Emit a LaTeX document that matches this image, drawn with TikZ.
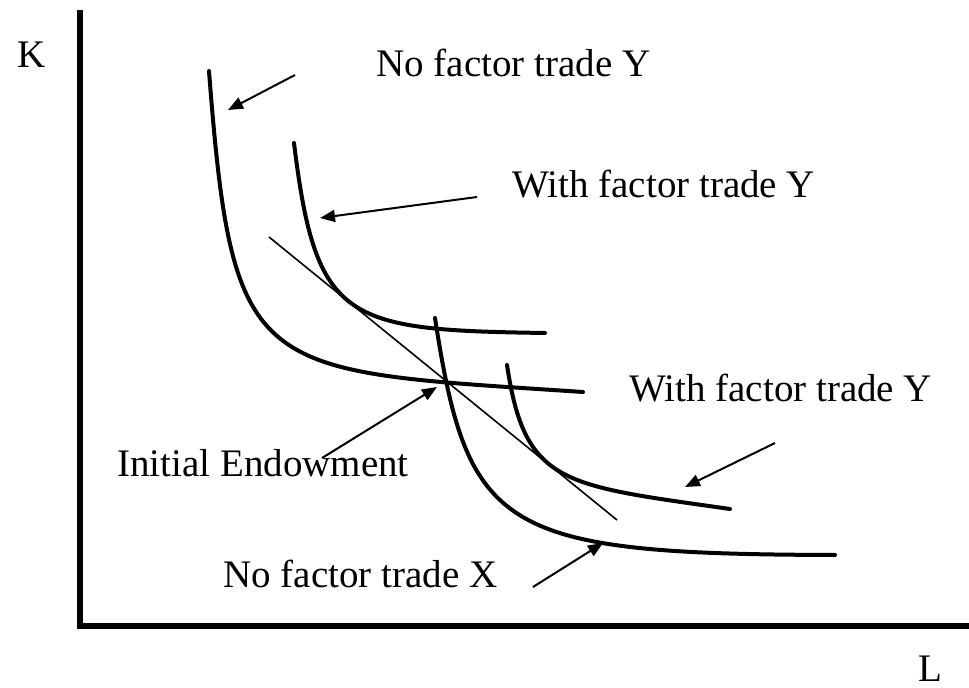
\documentclass[tikz,border=0pt]{standalone}
\usepackage{fontspec}
\setmainfont{Liberation Serif}
\usetikzlibrary{arrows.meta}

\begin{document}
\begin{tikzpicture}[x=0.5pt,y=-0.5pt,
  lbl/.style={anchor=base west,inner sep=0pt,font=\fontsize{19.5}{23}\selectfont},
  isoquant/.style={line width=2pt,line cap=round},
  pointer/.style={line width=1pt,-{Triangle[length=7.5pt,width=6pt]}}]
\useasboundingbox (0,0) rectangle (969,688);

% axes
\draw[line width=2.8pt] (80,10) -- (80,626) -- (969,626);
\node[lbl] (k) at (17,68) {K};
\node[lbl] (l) at (918,682) {L};

% isoquants
\draw[isoquant] (209,71) .. controls (233,381) and (253,370) .. (583,392);
\draw[isoquant] (294,143) .. controls (316,323) and (345,330) .. (545,333);
\draw[isoquant] (435,318) .. controls (468,532) and (500,554) .. (835,555);
\draw[isoquant] (507,365) .. controls (525,485) and (562,485) .. (730,509);

% price line
\draw[line width=0.8pt] (269,237) -- (617,520);

% labels
\node[lbl] (noy) at (376,77) {No factor trade Y};
\node[lbl] (withy) at (512,198) {With factor trade Y};
\node[lbl] (withy2) at (629,402) {With factor trade Y};
\node[lbl] (endow) at (117,477) {Initial Endowment};
\node[lbl] (nox) at (223,588) {No factor trade X};

% pointers
\coordinate (noy-t) at (295,75);   \coordinate (noy-h) at (228,110);
\coordinate (withy-t) at (477,197); \coordinate (withy-h) at (320,218);
\coordinate (endow-t) at (322,458); \coordinate (endow-h) at (437,387);
\coordinate (withy2-t) at (775,443); \coordinate (withy2-h) at (685,487);
\coordinate (nox-t) at (533,587);  \coordinate (nox-h) at (603,543);
\draw[pointer] (noy-t) -- (noy-h);
\draw[pointer] (withy-t) -- (withy-h);
\draw[pointer] (endow-t) -- (endow-h);
\draw[pointer] (withy2-t) -- (withy2-h);
\draw[pointer] (nox-t) -- (nox-h);
\end{tikzpicture}
\end{document}
